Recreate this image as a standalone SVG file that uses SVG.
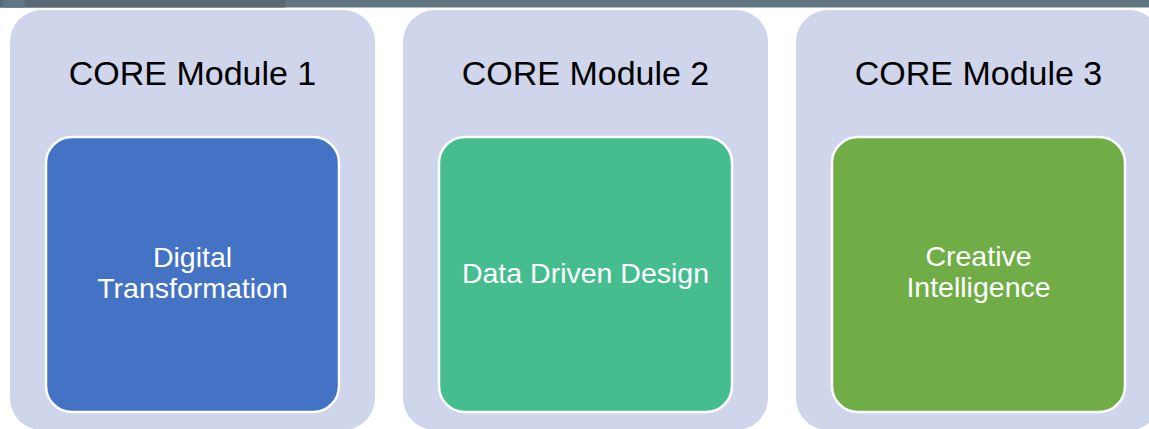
<svg xmlns="http://www.w3.org/2000/svg" width="1149" height="429" viewBox="0 0 1149 429">
  <style>
    .outer { fill: #CFD5EA; }
    .inner { stroke: #FFFFFF; stroke-width: 2.5; }
    .title { font-family: "Liberation Sans", Arial, sans-serif; font-size: 34px; fill: #000000; text-anchor: middle; }
    .label { font-family: "Liberation Sans", Arial, sans-serif; font-size: 28.5px; fill: #FFFFFF; text-anchor: middle; }
  </style>
  <rect x="0" y="0" width="1149" height="429" fill="#FFFFFF"/>
  <g id="topbar">
    <rect x="0" y="0" width="1149" height="7.5" fill="#617482"/>
    <rect x="0" y="0" width="285" height="7.5" fill="#596875"/>
    <rect x="3" y="0" width="22" height="7.5" fill="#627584"/>
  </g>
  <g id="module1">
    <rect class="outer" x="10" y="10" width="365" height="420" rx="32" ry="32"/>
    <text class="title" x="192.5" y="84.5">CORE Module 1</text>
    <rect class="inner" x="46" y="137" width="293" height="275" rx="26" ry="26" fill="#4472C4"/>
    <text class="label" x="192.5" y="267">Digital</text>
    <text class="label" x="192.5" y="298">Transformation</text>
  </g>
  <g id="module2">
    <rect class="outer" x="403" y="10" width="365" height="420" rx="32" ry="32"/>
    <text class="title" x="585.5" y="84.5">CORE Module 2</text>
    <rect class="inner" x="439" y="137" width="293" height="275" rx="26" ry="26" fill="#45BD8F"/>
    <text class="label" x="585.5" y="283">Data Driven Design</text>
  </g>
  <g id="module3">
    <rect class="outer" x="796" y="10" width="365" height="420" rx="32" ry="32"/>
    <text class="title" x="978.5" y="84.5">CORE Module 3</text>
    <rect class="inner" x="832" y="137" width="293" height="275" rx="26" ry="26" fill="#70AD47"/>
    <text class="label" x="978.5" y="266">Creative</text>
    <text class="label" x="978.5" y="297">Intelligence</text>
  </g>
  <g id="connectors"/>
</svg>
